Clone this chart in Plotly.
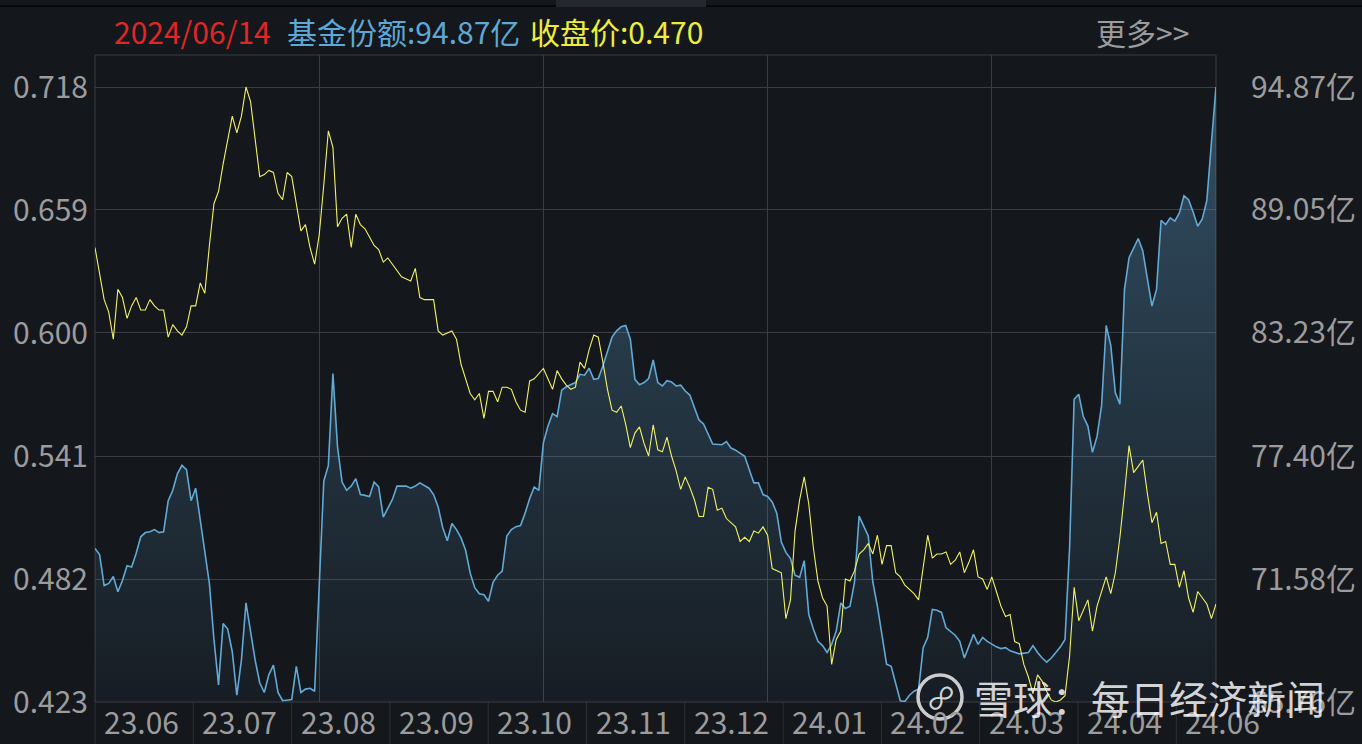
import plotly.graph_objects as go

# ---------------- data ----------------
last_date = "2024/06/14"
x_labels = ["23.06", "23.07", "23.08", "23.09", "23.10", "23.11", "23.12",
            "24.01", "24.02", "24.03", "24.04", "24.06"]
price_ticks = [0.423, 0.482, 0.541, 0.600, 0.659, 0.718]
share_ticks = [65.76, 71.58, 77.40, 83.23, 89.05, 94.87]

# trading-day index and closing price
price_day = [0, 1, 2, 3, 4, 5, 6, 7, 8, 9, 10, 11, 12, 13, 14, 15, 16, 17, 18, 19,
             20, 21, 22, 23, 24, 25, 26, 27, 28, 30, 31, 32, 33, 34, 35, 36, 37, 38, 39, 40,
             41, 42, 43, 44, 45, 46, 47, 48, 49, 50, 51, 52, 53, 54, 55, 56, 57, 58, 59, 60,
             61, 62, 63, 64, 66, 67, 69, 70, 71, 72, 74, 75, 76, 78, 79, 80, 81, 82, 83, 84,
             85, 86, 87, 88, 89, 90, 91, 92, 93, 94, 95, 96, 98, 99, 100, 101, 102, 103, 104, 105,
             106, 107, 108, 109, 110, 111, 112, 113, 114, 115, 116, 117, 118, 119, 120, 121, 122, 123, 124, 125,
             126, 127, 128, 129, 130, 131, 132, 133, 134, 135, 136, 137, 138, 140, 141, 142, 143, 144, 145, 146,
             147, 148, 149, 150, 151, 152, 153, 154, 155, 156, 157, 158, 159, 160, 161, 162, 163, 164, 165, 166,
             167, 168, 169, 170, 171, 172, 173, 174, 175, 176, 177, 179, 180, 181, 182, 183, 184, 185, 186, 187,
             188, 189, 190, 191, 192, 193, 194, 195, 196, 197, 198, 199, 200, 201, 202, 203, 204, 205, 206, 207,
             208, 209, 210, 211, 212, 213, 214, 215, 216, 217, 218, 219, 221, 222, 223, 224, 225, 226, 227, 229,
             230, 231, 232, 233, 234, 235, 236, 237, 238, 239, 240, 241, 242, 243, 244, 245]
price_val = [0.641, 0.628, 0.616, 0.610, 0.597, 0.621, 0.617, 0.607, 0.613, 0.617, 0.611, 0.611, 0.616, 0.613, 0.611, 0.611, 0.598, 0.604, 0.601, 0.599,
             0.603, 0.613, 0.613, 0.624, 0.619, 0.642, 0.662, 0.668, 0.681, 0.704, 0.696, 0.704, 0.718, 0.711, 0.693, 0.675, 0.676, 0.678, 0.677, 0.667,
             0.664, 0.677, 0.675, 0.663, 0.649, 0.652, 0.641, 0.633, 0.647, 0.671, 0.697, 0.689, 0.651, 0.655, 0.657, 0.641, 0.657, 0.652, 0.650, 0.646,
             0.642, 0.640, 0.634, 0.636, 0.630, 0.627, 0.625, 0.631, 0.617, 0.616, 0.616, 0.601, 0.599, 0.601, 0.597, 0.585, 0.578, 0.571, 0.568, 0.571,
             0.559, 0.572, 0.572, 0.567, 0.574, 0.574, 0.573, 0.567, 0.563, 0.562, 0.577, 0.578, 0.583, 0.578, 0.573, 0.582, 0.578, 0.575, 0.573, 0.574,
             0.586, 0.583, 0.592, 0.599, 0.598, 0.586, 0.573, 0.563, 0.562, 0.565, 0.556, 0.545, 0.552, 0.555, 0.547, 0.541, 0.556, 0.544, 0.543, 0.550,
             0.541, 0.534, 0.525, 0.531, 0.526, 0.520, 0.512, 0.512, 0.526, 0.525, 0.515, 0.516, 0.511, 0.507, 0.500, 0.502, 0.500, 0.505, 0.504, 0.507,
             0.503, 0.487, 0.486, 0.485, 0.463, 0.472, 0.505, 0.520, 0.531, 0.518, 0.497, 0.481, 0.473, 0.469, 0.441, 0.453, 0.457, 0.482, 0.481, 0.486,
             0.494, 0.496, 0.499, 0.494, 0.503, 0.489, 0.498, 0.498, 0.485, 0.483, 0.479, 0.475, 0.472, 0.487, 0.503, 0.492, 0.494, 0.494, 0.495, 0.489,
             0.491, 0.495, 0.485, 0.490, 0.496, 0.483, 0.482, 0.477, 0.483, 0.476, 0.469, 0.464, 0.465, 0.452, 0.451, 0.441, 0.435, 0.427, 0.436, 0.433,
             0.428, 0.424, 0.423, 0.424, 0.426, 0.445, 0.478, 0.462, 0.467, 0.472, 0.457, 0.469, 0.483, 0.475, 0.485, 0.502, 0.523, 0.546, 0.533, 0.539,
             0.523, 0.509, 0.514, 0.499, 0.500, 0.489, 0.489, 0.478, 0.486, 0.473, 0.466, 0.476, 0.473, 0.470, 0.463, 0.470]

# trading-day index and fund share (亿份)
share_day = [0, 1, 2, 3, 4, 5, 6, 7, 8, 9, 10, 11, 12, 13, 14, 15, 16, 17, 18, 19,
             20, 21, 22, 23, 24, 25, 26, 27, 28, 29, 30, 31, 32, 33, 35, 36, 37, 38, 39, 40,
             41, 43, 44, 45, 46, 47, 48, 49, 50, 51, 52, 53, 54, 55, 56, 57, 58, 59, 60, 61,
             62, 63, 64, 65, 66, 68, 69, 70, 71, 72, 73, 74, 75, 76, 77, 78, 79, 80, 81, 82,
             83, 84, 85, 86, 87, 88, 89, 90, 91, 92, 93, 94, 95, 96, 97, 98, 99, 100, 101, 102,
             103, 105, 106, 107, 108, 109, 110, 111, 112, 113, 114, 115, 116, 117, 118, 119, 120, 121, 122, 123,
             124, 125, 126, 127, 128, 129, 130, 131, 132, 133, 134, 135, 137, 138, 139, 140, 142, 143, 144, 145,
             146, 147, 148, 149, 150, 151, 152, 153, 154, 155, 156, 157, 158, 159, 160, 161, 162, 163, 164, 165,
             166, 167, 168, 169, 170, 171, 172, 173, 174, 175, 176, 177, 178, 179, 180, 181, 182, 183, 184, 185,
             186, 188, 189, 190, 191, 192, 193, 194, 195, 196, 197, 198, 199, 200, 201, 202, 204, 205, 206, 207,
             208, 209, 210, 211, 212, 213, 214, 215, 216, 217, 218, 219, 220, 221, 222, 223, 224, 225, 226, 228,
             229, 230, 231, 232, 233, 234, 235, 236, 237, 238, 239, 240, 241, 242, 243, 244, 245]
share_val = [73.03, 72.74, 71.27, 71.37, 71.70, 70.98, 71.51, 72.21, 72.15, 72.80, 73.58, 73.78, 73.82, 73.92, 73.78, 73.82, 75.29, 75.78, 76.56, 76.96,
             76.76, 75.29, 75.88, 74.41, 72.84, 71.37, 68.72, 66.57, 69.47, 69.21, 68.14, 66.08, 67.74, 70.45, 67.74, 66.67, 66.21, 67.06, 67.51, 66.21,
             65.82, 65.88, 67.45, 66.21, 66.37, 66.41, 66.27, 71.47, 76.21, 76.96, 81.31, 77.84, 76.17, 75.78, 75.98, 76.33, 75.58, 75.54, 75.49, 76.17,
             75.94, 74.51, 74.90, 75.35, 75.98, 75.98, 75.88, 75.98, 76.13, 76.01, 75.88, 75.58, 74.99, 74.01, 73.39, 74.21, 73.92, 73.53, 72.94, 71.86,
             71.17, 70.88, 70.84, 70.53, 71.43, 71.76, 71.96, 73.62, 73.92, 74.06, 74.11, 74.70, 75.39, 75.94, 75.78, 78.03, 78.82, 79.41, 79.27, 80.52,
             80.68, 80.88, 81.27, 81.23, 81.56, 81.03, 81.07, 81.66, 82.35, 83.03, 83.33, 83.52, 83.58, 82.93, 81.03, 80.78, 80.88, 81.07, 81.95, 80.88,
             80.72, 80.97, 80.91, 80.72, 80.76, 80.48, 80.29, 79.70, 79.11, 78.92, 78.43, 77.97, 77.94, 78.09, 77.78, 77.68, 77.39, 76.76, 76.13, 76.13,
             75.58, 75.49, 75.23, 74.70, 73.33, 72.84, 72.55, 71.76, 71.66, 72.45, 69.90, 69.21, 68.63, 68.43, 68.10, 68.49, 69.12, 70.45, 70.19, 70.29,
             71.43, 74.56, 74.06, 73.62, 71.43, 70.29, 68.92, 67.55, 67.45, 66.67, 65.82, 65.78, 66.08, 66.27, 66.37, 68.33, 68.82, 70.14, 70.10, 70.00,
             69.27, 68.92, 68.63, 67.84, 68.43, 68.96, 68.49, 68.82, 68.63, 68.49, 68.37, 68.29, 68.33, 68.18, 68.10, 68.04, 68.10, 68.43, 68.10, 67.84,
             67.65, 67.84, 68.10, 68.37, 68.72, 73.04, 80.09, 80.33, 79.27, 78.82, 77.58, 78.33, 79.80, 83.58, 82.64, 80.39, 79.86, 85.29, 86.79, 87.70,
             87.11, 85.87, 84.50, 85.29, 88.56, 88.36, 88.68, 88.52, 88.91, 89.73, 89.54, 88.95, 88.28, 88.62, 89.50, 92.24, 94.87]

# ---------------- geometry / style ----------------
W, H = 1362, 744
L, R, T, B = 95, 1216, 55, 702
PW, PH = R - L, B - T
BG = "#14171c"
GRID = "#3a3d43"
SEP = "#2e3136"
TXT = "#9c9c9c"
FONT = "Noto Sans CJK SC"
FS = 30
N_DAYS = 245


def px_x(px):
    return (px - L) / PW


def px_y(py):
    return (B - py) / PH


top_pad = 32 / 615
p_lo, p_hi = price_ticks[0], price_ticks[-1]
s_lo, s_hi = share_ticks[0], share_ticks[-1]
p_range = [p_lo, p_hi + (p_hi - p_lo) * top_pad]
s_range = [s_lo, s_hi + (s_hi - s_lo) * top_pad]

fig = go.Figure()

fig.add_trace(go.Scatter(
    x=share_day, y=share_val, mode="lines", yaxis="y",
    line=dict(color="#62a9d6", width=1.6),
    fill="tozeroy",
    fillgradient=dict(type="vertical", start=s_lo, stop=s_hi,
                      colorscale=[[0, "rgba(98,169,214,0.04)"],
                                  [1, "rgba(98,169,214,0.38)"]]),
    hoverinfo="skip", showlegend=False))

fig.add_trace(go.Scatter(
    x=price_day, y=price_val, mode="lines", yaxis="y2",
    line=dict(color="#f2f266", width=1.1),
    hoverinfo="skip", showlegend=False))

# x-strip separators
box_days = 98.3 / (PW / N_DAYS)
shapes = []
for k in range(1, len(x_labels)):
    xd = k * box_days
    shapes.append(dict(type="line", xref="x", yref="paper", x0=xd, x1=xd,
                       y0=0, y1=px_y(H), line=dict(color=SEP, width=1), layer="below"))
# plot frame
shapes.append(dict(type="rect", xref="paper", yref="paper", x0=0, x1=1, y0=0, y1=1,
                   line=dict(color=GRID, width=1), layer="below"))
# left edge continues through the label strip
shapes.append(dict(type="line", xref="paper", yref="paper", x0=0, x1=0, y0=0, y1=px_y(H),
                   line=dict(color=SEP, width=1), layer="below"))
# top dark band line and tab
shapes.append(dict(type="line", xref="paper", yref="paper", x0=px_x(0), x1=px_x(W),
                   y0=px_y(6), y1=px_y(6), line=dict(color="#07080a", width=2)))
shapes.append(dict(type="rect", xref="paper", yref="paper", x0=px_x(556), x1=px_x(706),
                   y0=px_y(7), y1=px_y(0), fillcolor="#24272d", line=dict(width=0)))
# watermark logo circle
shapes.append(dict(type="circle", xref="paper", yref="paper", x0=px_x(918), x1=px_x(962),
                   y0=px_y(719), y1=px_y(675), line=dict(color="rgba(255,255,255,0.78)", width=3.5)))

annotations = []
for k, lab in enumerate(x_labels):
    annotations.append(dict(text=lab, xref="x", yref="paper", x=k * box_days + 7 / (PW / N_DAYS),
                            y=px_y(721), xanchor="left", yanchor="middle", showarrow=False,
                            font=dict(family=FONT, size=FS, color=TXT)))

annotations += [
    dict(text=last_date, xref="paper", yref="paper", x=px_x(112), y=px_y(31),
         xanchor="left", yanchor="middle", showarrow=False,
         font=dict(family=FONT, size=FS, color="#e02626")),
    dict(text=f"基金份额:{share_val[-1]:.2f}亿", xref="paper", yref="paper", x=px_x(285), y=px_y(31),
         xanchor="left", yanchor="middle", showarrow=False,
         font=dict(family=FONT, size=FS, color="#5ea8d6")),
    dict(text=f"收盘价:{price_val[-1]:.3f}", xref="paper", yref="paper", x=px_x(528), y=px_y(31),
         xanchor="left", yanchor="middle", showarrow=False,
         font=dict(family=FONT, size=FS, color="#eded3a")),
    dict(text="更多>>", xref="paper", yref="paper", x=px_x(1094), y=px_y(32),
         xanchor="left", yanchor="middle", showarrow=False,
         font=dict(family=FONT, size=FS, color=TXT)),
    dict(text="雪球：每日经济新闻", xref="paper", yref="paper", x=px_x(972), y=px_y(697),
         xanchor="left", yanchor="middle", showarrow=False,
         font=dict(family=FONT, size=39, color="rgba(255,255,255,0.82)")),
    dict(text="∞", xref="paper", yref="paper", x=px_x(940), y=px_y(697), textangle=-45,
         xanchor="center", yanchor="middle", showarrow=False,
         font=dict(family=FONT, size=30, color="rgba(255,255,255,0.82)")),
]

fig.update_layout(
    width=W, height=H,
    margin=dict(l=L, r=W - R, t=T, b=H - B, pad=0, autoexpand=False),
    paper_bgcolor=BG, plot_bgcolor=BG,
    showlegend=False,
    xaxis=dict(range=[0, N_DAYS], showticklabels=False, ticks="",
               tickvals=[N_DAYS * i / 5 for i in range(1, 5)],
               showgrid=True, gridcolor=GRID, gridwidth=1, automargin=False,
               zeroline=False, showline=False, fixedrange=True),
    yaxis=dict(range=s_range, side="right", tickvals=share_ticks,
               ticktext=[f"{v:.2f}亿" for v in share_ticks],
               showgrid=True, gridcolor=GRID, gridwidth=1, zeroline=False,
               ticks="", ticklabelstandoff=34, automargin=False,
               tickfont=dict(family=FONT, size=FS, color=TXT), fixedrange=True),
    yaxis2=dict(range=p_range, side="left", overlaying="y", tickvals=price_ticks,
                ticktext=[f"{v:.3f}" for v in price_ticks],
                showgrid=False, zeroline=False, ticks="", ticklabelstandoff=6,
                automargin=False,
                tickfont=dict(family=FONT, size=FS, color=TXT), fixedrange=True),
    shapes=shapes,
    annotations=annotations,
)

fig.write_html("out.html", config={"displayModeBar": False},
               post_script="document.body.style.margin='0';document.body.style.background='%s';" % BG)
